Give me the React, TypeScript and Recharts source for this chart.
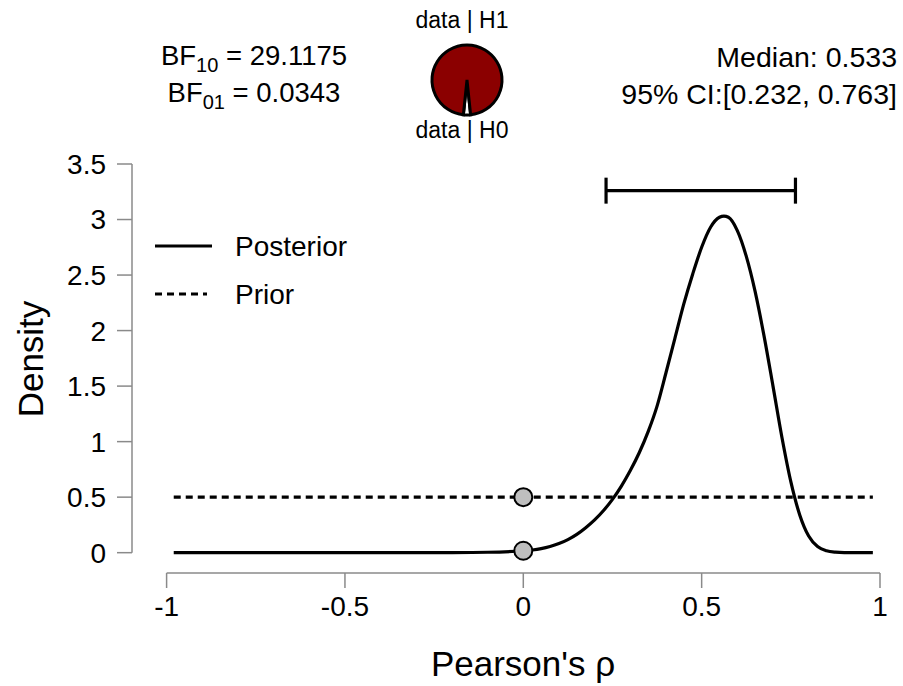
import React from 'react';
import {
  ComposedChart,
  Line,
  Scatter,
  XAxis,
  YAxis,
  ReferenceLine,
  Legend,
  PieChart,
  Pie,
  Cell,
} from 'recharts';

// posterior / prior density of Pearson's rho
const rhoGrid = [
  -0.98, -0.9, -0.8, -0.7, -0.6, -0.5, -0.4, -0.3, -0.2, -0.1,
  0, 0.025, 0.05, 0.075, 0.1, 0.125, 0.15, 0.175, 0.2, 0.225, 0.25, 0.275, 0.3, 0.325, 0.35,
  0.375, 0.4, 0.425, 0.45, 0.475, 0.5, 0.525, 0.55, 0.5625, 0.575, 0.6, 0.625, 0.65, 0.675,
  0.7, 0.725, 0.75, 0.775, 0.8, 0.825, 0.85, 0.875, 0.9, 0.98,
];
const posteriorDensity = [
  0, 0, 0, 0, 0, 0, 0, 0.0001, 0.0008, 0.004,
  0.0172, 0.024, 0.036, 0.055, 0.082, 0.118, 0.165, 0.225, 0.295, 0.38, 0.48, 0.6, 0.74, 0.9, 1.09,
  1.32, 1.62, 1.93, 2.24, 2.51, 2.75, 2.93, 3.02, 3.03, 3.02, 2.9, 2.67, 2.35, 1.95,
  1.5, 1.04, 0.64, 0.34, 0.15, 0.055, 0.018, 0.005, 0.001, 0,
];
const priorRho = [-0.98, 0.98];
const priorDensity = [0.5, 0.5];

// densities at the test value rho = 0
const testValue = 0;
const priorAtZero = 0.5;
const posteriorAtZero = 0.0172;

const bf10 = 29.1175;
const bf01 = 0.0343;
const median = 0.533;
const ciLower = 0.232;
const ciUpper = 0.763;

const xTicks = [-1, -0.5, 0, 0.5, 1];
const yTicks = [0, 0.5, 1, 1.5, 2, 2.5, 3, 3.5];

const posteriorData = rhoGrid.map((x, i) => ({ x, y: posteriorDensity[i] }));
const priorData = priorRho.map((x, i) => ({ x, y: priorDensity[i] }));
const pointData = [
  { x: testValue, y: priorAtZero },
  { x: testValue, y: posteriorAtZero },
];
const pieData = [
  { name: 'data | H0', value: 1 },
  { name: 'data | H1', value: bf10 },
];

const FONT = '"Liberation Sans", Arial, sans-serif';
const AXIS_GREY = '#8a8a8a';
const X_MIN = -1.097;
const Y_MIN = -0.183;
const CI_Y = 3.26;
const CAP = 0.117;

const renderLegend = (props: any) => {
  const items = (props.payload || []).filter((p: any) => p.type !== 'none');
  return (
    <svg width={240} height={100} style={{ overflow: 'visible' }}>
      {items.map((entry: any, i: number) => {
        const cy = 24 + i * 48;
        const dashed = entry.payload && entry.payload.strokeDasharray;
        return (
          <g key={entry.value}>
            <line
              x1={5}
              x2={dashed ? 57 : 62}
              y1={cy}
              y2={cy}
              stroke="#000"
              strokeWidth={3.2}
              strokeDasharray={dashed ? '7 5' : undefined}
            />
            <text x={85} y={cy} dominantBaseline="central" fontSize={28} fontFamily={FONT} fill="#000">
              {entry.value}
            </text>
          </g>
        );
      })}
    </svg>
  );
};

const PointShape = (props: any) => (
  <circle cx={props.cx} cy={props.cy} r={9} fill="#bfbfbf" stroke="#000" strokeWidth={2} />
);

const DensityLabel = () => (
  <text
    x={43}
    y={359}
    transform="rotate(-90 43 359)"
    textAnchor="middle"
    fontSize={35}
    fontFamily={FONT}
    fill="#000"
  >
    Density
  </text>
);

const RhoLabel = () => (
  <text x={523} y={676} textAnchor="middle" fontSize={35} fontFamily={FONT} fill="#000">
    Pearson's ρ
  </text>
);

const App: React.FC = () => {
  return (
    <div style={{ position: 'absolute', left: 0, top: 0, width: 903, height: 686, background: '#fff', fontFamily: FONT }}>
      <ComposedChart width={903} height={686} margin={{ top: 164, right: 23, bottom: 0, left: 0 }}>
        <XAxis
          type="number"
          dataKey="x"
          domain={[X_MIN, 1]}
          ticks={xTicks}
          allowDataOverflow
          height={113}
          axisLine={false}
          tickSize={15}
          tickMargin={8}
          tickLine={{ stroke: AXIS_GREY, strokeWidth: 1.5 }}
          tick={{ fontSize: 28, fill: '#000', fontFamily: FONT }}
          label={<RhoLabel />}
        />
        <YAxis
          type="number"
          dataKey="y"
          domain={[Y_MIN, 3.5]}
          ticks={yTicks}
          allowDataOverflow
          width={132}
          axisLine={false}
          tickSize={15}
          tickMargin={11}
          tickLine={{ stroke: AXIS_GREY, strokeWidth: 1.5 }}
          tick={{ fontSize: 28, fill: '#000', fontFamily: FONT }}
          label={<DensityLabel />}
        />
        <ReferenceLine
          segment={[{ x: -1, y: Y_MIN }, { x: 1, y: Y_MIN }]}
          stroke={AXIS_GREY}
          strokeWidth={1.5}
          ifOverflow="visible"
        />
        <ReferenceLine
          segment={[{ x: X_MIN, y: 0 }, { x: X_MIN, y: 3.5 }]}
          stroke={AXIS_GREY}
          strokeWidth={1.5}
          ifOverflow="visible"
        />
        {/* 95% credible interval */}
        <ReferenceLine segment={[{ x: ciLower, y: CI_Y }, { x: ciUpper, y: CI_Y }]} stroke="#000" strokeWidth={3.2} ifOverflow="visible" />
        <ReferenceLine segment={[{ x: ciLower, y: CI_Y - CAP }, { x: ciLower, y: CI_Y + CAP }]} stroke="#000" strokeWidth={3.2} ifOverflow="visible" />
        <ReferenceLine segment={[{ x: ciUpper, y: CI_Y - CAP }, { x: ciUpper, y: CI_Y + CAP }]} stroke="#000" strokeWidth={3.2} ifOverflow="visible" />
        <Line
          data={posteriorData}
          dataKey="y"
          name="Posterior"
          type="monotone"
          stroke="#000"
          strokeWidth={3.2}
          dot={false}
          activeDot={false}
          isAnimationActive={false}
        />
        <Line
          data={priorData}
          dataKey="y"
          name="Prior"
          type="linear"
          stroke="#000"
          strokeWidth={3.2}
          strokeDasharray="7 5"
          dot={false}
          activeDot={false}
          isAnimationActive={false}
        />
        <Scatter data={pointData} dataKey="y" shape={<PointShape />} legendType="none" isAnimationActive={false} />
        <Legend
          layout="horizontal"
          verticalAlign="middle"
          align="center"
          content={renderLegend}
          wrapperStyle={{ left: 150, top: 222, width: 240, height: 100 }}
        />
      </ComposedChart>

      <div style={{ position: 'absolute', left: 402, top: 15, width: 120, height: 120 }}>
        <PieChart width={120} height={120}>
          <Pie
            data={pieData}
            dataKey="value"
            cx={60}
            cy={60}
            outerRadius={35}
            startAngle={264}
            endAngle={624}
            stroke="#000"
            strokeWidth={3}
            isAnimationActive={false}
          >
            <Cell fill="#ffffff" />
            <Cell fill="#8b0000" />
          </Pie>
        </PieChart>
      </div>

      <svg width={903} height={150} style={{ position: 'absolute', left: 0, top: 0, pointerEvents: 'none' }} fontFamily={FONT}>
        <text x={462} y={28} textAnchor="middle" fontSize={23} fill="#000">data | H1</text>
        <text x={462} y={138} textAnchor="middle" fontSize={23} fill="#000">data | H0</text>
        <text x={254} y={65} textAnchor="middle" fontSize={27.5} fill="#000">
          BF<tspan fontSize={20} dy={7}>10</tspan><tspan dy={-7}> = {bf10.toFixed(4)}</tspan>
        </text>
        <text x={254} y={102} textAnchor="middle" fontSize={27.5} fill="#000">
          BF<tspan fontSize={20} dy={7}>01</tspan><tspan dy={-7}> = {bf01.toFixed(4)}</tspan>
        </text>
        <text x={897} y={67} textAnchor="end" fontSize={28.5} fill="#000">Median: {median.toFixed(3)}</text>
        <text x={897} y={104} textAnchor="end" fontSize={28.5} fill="#000">
          95% CI:[{ciLower.toFixed(3)}, {ciUpper.toFixed(3)}]
        </text>
      </svg>
    </div>
  );
};

export default App;
